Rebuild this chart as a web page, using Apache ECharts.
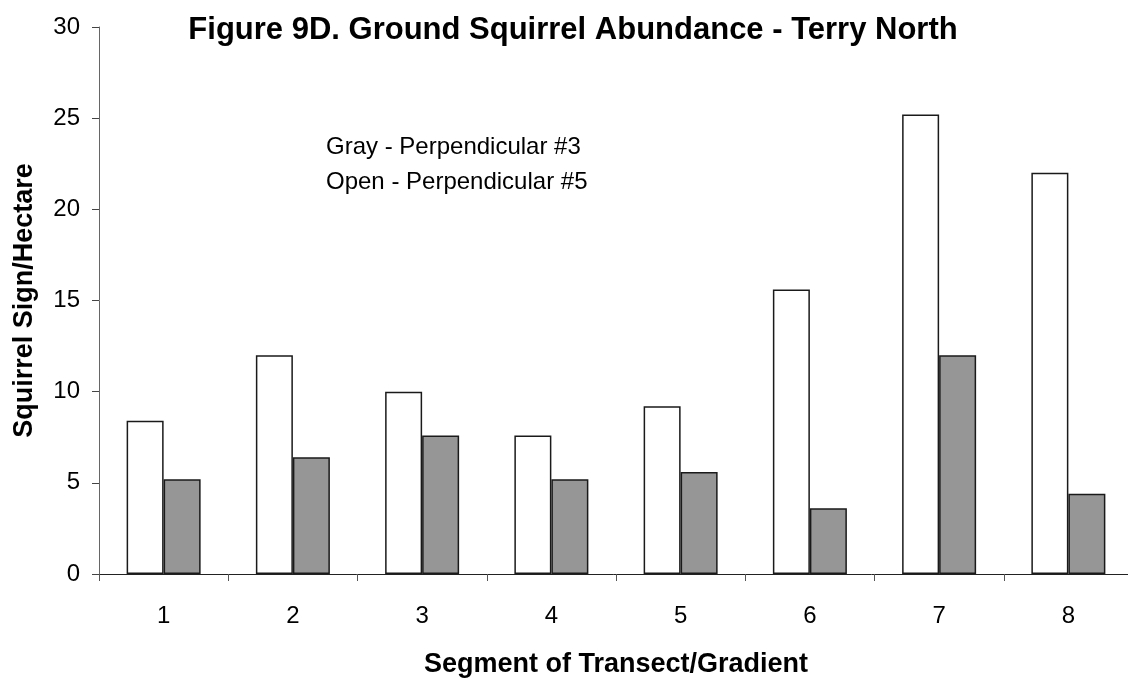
<!DOCTYPE html>
<html>
<head>
<meta charset="utf-8">
<script src="https://cdn.jsdelivr.net/npm/echarts@6/dist/echarts.min.js"></script>
<style>
  html, body { margin: 0; padding: 0; background: #fff; }
  #chart { width: 1128px; height: 683px; }
</style>
</head>
<body>
<div id="chart"></div>
<script>
// segments of the transect
var segments = ['1', '2', '3', '4', '5', '6', '7', '8'];
// open bars - perpendicular #5
var openValues = [8.4, 12.0, 10.0, 7.6, 9.2, 15.6, 25.2, 22.0];
// gray bars - perpendicular #3
var grayValues = [5.2, 6.4, 7.6, 5.2, 5.6, 3.6, 12.0, 4.4];
var yTicks = { min: 0, max: 30, step: 5 };

var font = 'Liberation Sans, Arial, sans-serif';
var chart = echarts.init(document.getElementById('chart'));

chart.setOption({
  backgroundColor: '#fff',
  animation: false,
  title: {
    text: 'Figure 9D. Ground Squirrel Abundance - Terry North',
    left: 568,
    textAlign: 'center',
    top: 10,
    textStyle: { fontFamily: font, fontSize: 31, fontWeight: 'bold', color: '#000' }
  },
  graphic: [
    {
      type: 'text', left: 326, top: 135,
      style: { text: 'Gray - Perpendicular #3', font: '24px ' + font, fill: '#000' }
    },
    {
      type: 'text', left: 326, top: 170,
      style: { text: 'Open - Perpendicular #5', font: '24px ' + font, fill: '#000' }
    }
  ],
  grid: {
    left: 99, top: 27, width: 1034, height: 547,
    containLabel: false,
    outerBoundsMode: 'none'
  },
  xAxis: {
    type: 'category',
    data: segments,
    name: 'Segment of Transect/Gradient',
    nameLocation: 'middle',
    nameGap: 77,
    nameTextStyle: { fontFamily: font, fontSize: 27, fontWeight: 'bold', color: '#000' },
    axisLine: { lineStyle: { color: '#222', width: 1 } },
    axisTick: { show: true, length: 7, inside: false, lineStyle: { color: '#555' } },
    axisLabel: { margin: 30, fontFamily: font, fontSize: 24, color: '#000' },
    splitLine: { show: false }
  },
  yAxis: {
    type: 'value',
    min: yTicks.min,
    max: yTicks.max,
    interval: yTicks.step,
    name: 'Squirrel Sign/Hectare',
    nameLocation: 'middle',
    nameGap: 61,
    nameTextStyle: { fontFamily: font, fontSize: 27, fontWeight: 'bold', color: '#000' },
    axisLine: { show: true, lineStyle: { color: '#666', width: 1 } },
    axisTick: { show: true, length: 7, lineStyle: { color: '#444' } },
    axisLabel: { margin: 19, fontFamily: font, fontSize: 24, color: '#000' },
    splitLine: { show: false }
  },
  series: [
    {
      name: 'Open - Perpendicular #5',
      type: 'bar',
      data: openValues,
      barWidth: 37,
      barGap: '0%',
      itemStyle: { color: '#fff', borderColor: '#1a1a1a', borderWidth: 1.5 }
    },
    {
      name: 'Gray - Perpendicular #3',
      type: 'bar',
      data: grayValues,
      barWidth: 37,
      barGap: '0%',
      itemStyle: { color: '#969696', borderColor: '#1a1a1a', borderWidth: 1.5 }
    }
  ]
});
</script>
</body>
</html>
